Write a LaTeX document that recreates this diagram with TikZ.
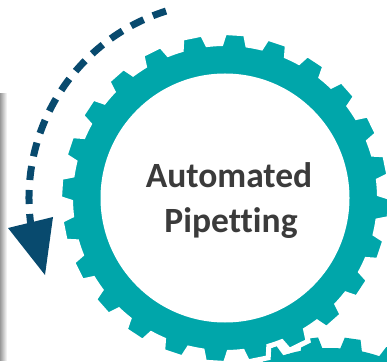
\documentclass[tikz,border=0pt]{standalone}
\usepackage{fontspec}
\setmainfont{Carlito}[Ligatures=NoCommon]
\usetikzlibrary{fadings}
\definecolor{gearteal}{RGB}{0,166,170}
\definecolor{arrowblue}{RGB}{8,74,110}
\definecolor{textgray}{RGB}{59,59,59}
\tikzset{
  gearfill/.style={fill=gearteal},
  gearedge/.style={fill=gearteal, draw=white, line width=5pt, line join=miter},
  labeltext/.style={text=textgray, font=\bfseries\fontsize{35.5}{45}\selectfont, inner sep=0pt},
  cyclearrow/.style={draw=arrowblue, line width=7pt, dash pattern=on 14pt off 10pt},
}
\begin{document}
\begin{tikzpicture}[x=1pt,y=1pt]
\useasboundingbox (0,0) rectangle (387,361);
\clip (0,0) rectangle (387,361);
% shadow bar on the left
\fill[black!40, path fading=east] (0,0) rectangle (7,268);
% lower gear (partly visible)
\coordinate (lowc) at (330,-139);
\fill[gearfill, shift={(lowc)}] (78:152)
  \foreach \i in {0,...,23} {
    -- ({82+15*\i-4.1}:152) -- ({82+15*\i-2.8}:163) -- ({82+15*\i+2.8}:163) -- ({82+15*\i+4.1}:152)
    arc[start angle={82+15*\i+4.1}, end angle={82+15*\i+15-4.1}, radius=152]
  } -- cycle;
% main gear
\coordinate (gc) at (225,163);
\path[gearedge, shift={(gc)}] ({86.5-4.97}:154.5)
  \foreach \i in {0,...,23} {
    -- ({86.5+15*\i-4.97}:154.5) -- ({86.5+15*\i-3.63}:165.5) -- ({86.5+15*\i+3.63}:165.5) -- ({86.5+15*\i+4.97}:154.5)
    arc[start angle={86.5+15*\i+4.97}, end angle={86.5+15*\i+15-4.97}, radius=154.5]
  } -- cycle;
\fill[white] (gc) circle[radius=124.5];
% label
\node[labeltext, anchor=base] (l1) at (229,173) {Automated};
\node[labeltext, anchor=base] (l2) at (231,128) {Pipetting};
% dashed cycle arrow
\coordinate (arcstart) at ([shift={(107.5:196)}]gc);
\draw[cyclearrow] (arcstart) arc[start angle=107.5, end angle=189, radius=196];
\coordinate (hl) at (8,133);
\coordinate (hr) at (53,144);
\coordinate (ht) at (45,86);
\fill[arrowblue] (hl) -- (hr) -- (ht) -- cycle;
\end{tikzpicture}
\end{document}
